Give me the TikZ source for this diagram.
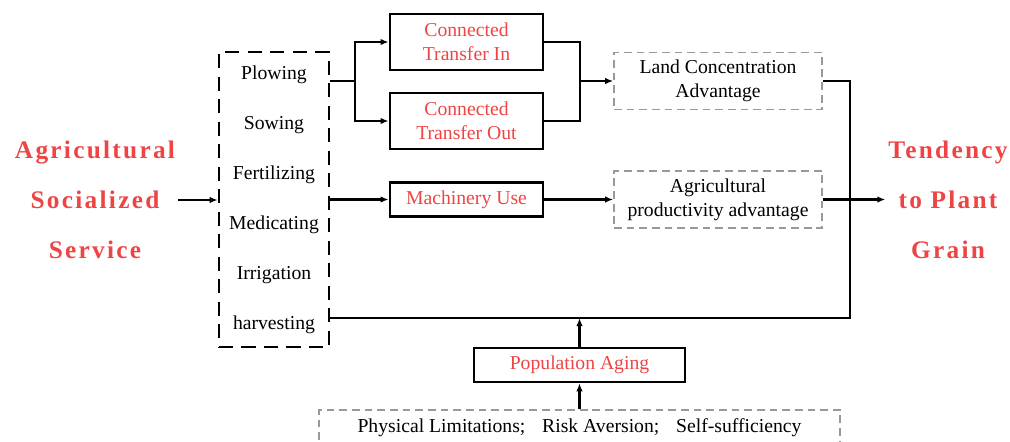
\documentclass[tikz,border=0pt]{standalone}
\usepackage{fontspec}
\setmainfont{Liberation Serif}
\newfontfamily\spacedserif[LetterSpace=9]{Liberation Serif}
\usetikzlibrary{arrows.meta}
\definecolor{keyred}{RGB}{238,68,68}
\tikzset{
  solidbox/.style={draw, line width=1.8pt, text=keyred, align=center, inner sep=0pt,
    font=\fontsize{14}{17}\selectfont},
  greybox/.style={draw=black!40, dash pattern=on 5.5pt off 3.5pt, line width=1.1pt,
    align=center, inner sep=0pt, font=\fontsize{14}{17}\selectfont},
  bigred/.style={text=keyred, align=center, inner sep=2pt,
    font=\spacedserif\bfseries\fontsize{18}{35.6}\selectfont},
  link/.style={line width=1.5pt},
  flow/.style={line width=1.5pt, -{Latex[length=2mm,width=1.6mm]}}
}

\begin{document}
\begin{tikzpicture}[x=0.025cm, y=-0.025cm]
	\useasboundingbox (0,0) rectangle (1010,441);
	
	%%%%% cause and result %%%%%
	\node[bigred] (svc) at (95,200) {Agricultural\\Socialized\\Service};
	\node[bigred] (goal) at (948,200) {Tendency\\to Plant\\Grain};
	
	%%%%% service links %%%%%
	\node[draw, line width=1.8pt, dash pattern=on 10pt off 6pt, align=center, inner sep=0pt,
	  minimum width=2.75cm, minimum height=7.38cm, font=\fontsize{14}{35.6}\selectfont]
	  (ops) at (274,199.5) {Plowing\\Sowing\\Fertilizing\\Medicating\\Irrigation\\harvesting};
	
	\node[solidbox, minimum width=3.83cm, minimum height=1.4cm] (tin) at (466.5,42) {Connected\\Transfer In};
	\node[solidbox, minimum width=3.83cm, minimum height=1.4cm] (tout) at (466.5,121) {Connected\\Transfer Out};
	\node[solidbox, minimum width=3.83cm, minimum height=0.85cm] (mach) at (466.5,199.5) {Machinery Use};
	
	\node[greybox, minimum width=5.2cm, minimum height=1.43cm] (land) at (718,81) {Land Concentration\\Advantage};
	\node[greybox, minimum width=5.2cm, minimum height=1.43cm] (prod) at (718,199.5) {Agricultural\\productivity advantage};
	
	\node[solidbox, minimum width=5.28cm, minimum height=0.85cm] (aging) at (579.5,365) {Population Aging};
	\node[greybox, minimum width=13.03cm, minimum height=0.9cm] (limits) at (579.5,428)
	  {Physical Limitations;\hspace{0.6em} Risk Aversion;\hspace{0.6em} Self-sufficiency};
	
	\coordinate (fork) at (355,81);
	\coordinate (merge) at (580,81);
	\coordinate (rail) at (850,318);
	
	%%%%% connectors %%%%%
	\draw[flow] (svc.east) -- (svc.east -| ops.west);
	
	\draw[link] (ops.east |- fork) -- (fork);
	\draw[flow] (fork) |- (tin.west);
	\draw[flow] (fork) |- (tout.west);
	\draw[link] (tin.east) -| (merge);
	\draw[link] (tout.east) -| (merge);
	\draw[flow] (merge) -- (land.west);
	
	\draw[flow] (ops.east) -- (mach.west);
	\draw[flow] (mach.east) -- (prod.west);
	\draw[flow] (prod.east) -- (prod.east -| goal.west);
	
	\draw[link] (ops.east |- rail) -- (rail) |- (land.east);
	\draw[flow] (aging.north) -- (aging.north |- rail);
	\draw[flow] (limits.north) -- (aging.south);
	
\end{tikzpicture}
\end{document}
